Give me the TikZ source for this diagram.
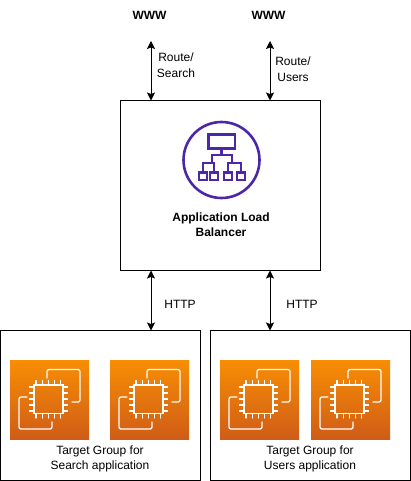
\documentclass[tikz,border=0pt]{standalone}
\usepackage{fontspec}
\setmainfont{Liberation Sans}
\usetikzlibrary{arrows.meta}
\definecolor{albp}{HTML}{4D27AA}
\definecolor{ectop}{HTML}{F78E04}
\definecolor{ecbot}{HTML}{D05C17}
\tikzset{
  boxx/.style={draw=black,line width=1pt,fill=white,minimum width=200pt,inner sep=0pt,outer sep=0pt,anchor=north west},
  lbl/.style={font=\fontsize{12}{15.5}\selectfont,align=center,inner sep=0pt},
  www/.style={font=\fontsize{12}{14}\selectfont\bfseries,inner sep=0pt},
  conn/.style={draw=black,line width=1pt,{Stealth[length=8pt,width=8pt,inset=1.5pt]}-{Stealth[length=8pt,width=8pt,inset=1.5pt]}},
  alb/.style={draw=albp,line width=2.2pt,fill=none},
  chipline/.style={draw=white,line width=1.3pt,line cap=round,line join=round,fill=none},
  pics/ectwo/.style={code={
    \shade[top color=ectop,bottom color=ecbot] (0,0) rectangle (79,79);
    \draw[chipline,rounded corners=2pt] (37,18) -- (37,9.5) -- (70,9.5) -- (70,42) -- (62,42);
    \draw[chipline,rounded corners=2pt] (17,37) -- (9,37) -- (9,69) -- (42,69) -- (42,62);
    \draw[chipline,line width=1.5pt,line cap=butt,line join=miter] (24,25) rectangle (53,53.5);
    \foreach \t in {0,1,2,3,4}{
      \draw[chipline] ({26+\t*6.2},25) -- ({26+\t*6.2},20.5);
      \draw[chipline] ({26+\t*6.2},53.5) -- ({26+\t*6.2},58);
      \draw[chipline] (24,{27+\t*6}) -- (19.5,{27+\t*6});
      \draw[chipline] (53,{27+\t*6}) -- (57.5,{27+\t*6});
    }
  }}
}
\begin{document}
\begin{tikzpicture}[x=1pt,y=-1pt]
\useasboundingbox (0,0) rectangle (411,481);
% boxes
\node[boxx,minimum height=170pt] (lb) at (120.5,100.5) {};
\node[boxx,minimum height=150pt] (tga) at (0.5,330.5) {};
\node[boxx,minimum height=150pt] (tgb) at (210.5,330.5) {};
% labels
\node[www] (w1) at (149.5,15) {WWW};
\node[www] (w2) at (268.5,15) {WWW};
\node[lbl] (r1) at (176,65) {Route/\\Search};
\node[lbl] (r2) at (293,69) {Route/\\Users};
\node[lbl] (h1) at (180,304) {HTTP};
\node[lbl] (h2) at (302,304) {HTTP};
\node[lbl,font=\fontsize{12}{15.5}\selectfont\bfseries] (lbt) at (221,224.5) {Application Load\\Balancer};
\node[lbl] (ta) at (100,459) {Target Group for\\Search application};
\node[lbl] (tb) at (310,459) {Target Group for\\Users application};
% connectors
\coordinate (a1) at (151,41);
\coordinate (a2) at (270,41);
\draw[conn] (a1) -- (a1 |- lb.north);
\draw[conn] (a2) -- (a2 |- lb.north);
\coordinate (b1) at (151,270.5);
\coordinate (b2) at (270,270.5);
\draw[conn] (b1) -- (b1 |- tga.north);
\draw[conn] (b2) -- (b2 |- tgb.north);
% load balancer icon
\draw[alb,line width=2.6pt] (221.5,160) circle[radius=38];
\draw[alb] (208.5,134.5) rectangle (235,148.5);
\draw[alb] (221.5,148.5) -- (221.5,155) (212,163) -- (212,155) -- (232,155) -- (232,163);
\draw[alb] (203,172) -- (203,163) -- (214,163) -- (214,172);
\draw[alb] (228,172) -- (228,163) -- (241,163) -- (241,172);
\foreach \c in {203,214,228,241}{
  \draw[alb] ({\c-4},172.5) rectangle ({\c+4},180);
}
% EC2 icons
\pic at (10,360) {ectwo};
\pic at (110,360) {ectwo};
\pic at (220,360) {ectwo};
\pic at (311,360) {ectwo};
\end{tikzpicture}
\end{document}
